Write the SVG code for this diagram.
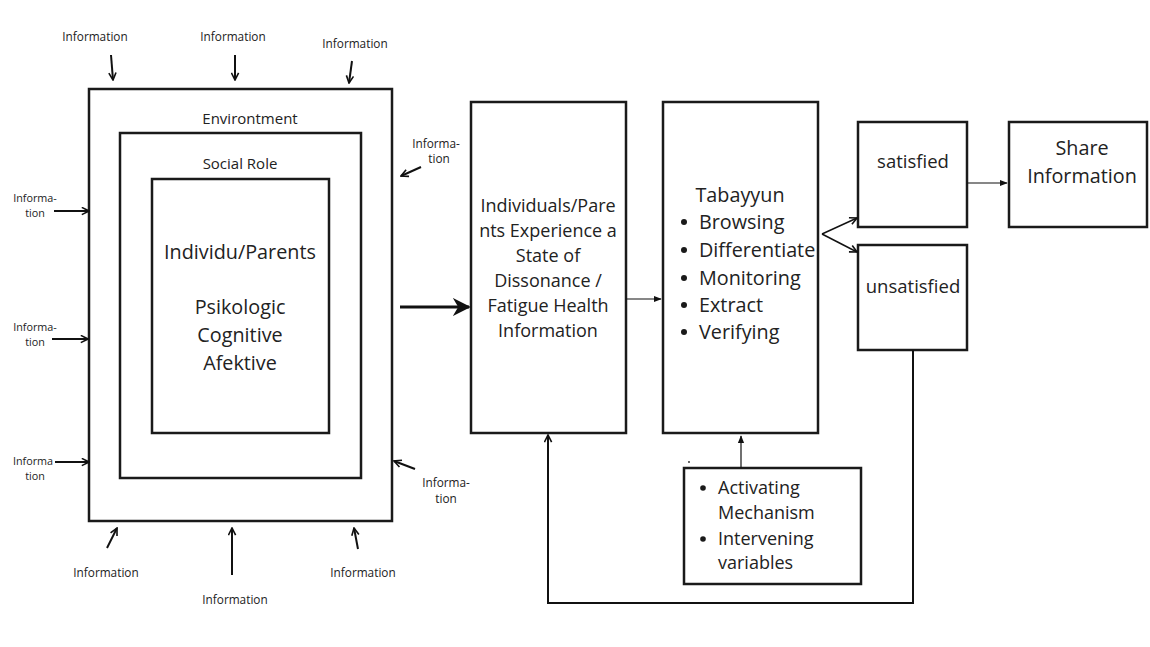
<svg xmlns="http://www.w3.org/2000/svg" width="1150" height="647" viewBox="0 0 1150 647">
  <defs>
    <marker id="open" viewBox="0 0 10 10" refX="9" refY="5" markerWidth="9" markerHeight="9" markerUnits="userSpaceOnUse" orient="auto">
      <path d="M1,1 L9,5 L1,9" fill="none" stroke="#111" stroke-width="1.8"/>
    </marker>
    <marker id="tri" viewBox="0 0 10 10" refX="9" refY="5" markerWidth="8" markerHeight="8" markerUnits="userSpaceOnUse" orient="auto">
      <path d="M0,1 L10,5 L0,9 Z" fill="#111"/>
    </marker>
    <marker id="big" viewBox="0 0 10 10" refX="9" refY="5" markerWidth="18" markerHeight="18" markerUnits="userSpaceOnUse" orient="auto">
      <path d="M0,0 L10,5 L0,10 L3,5 Z" fill="#111"/>
    </marker>
  </defs>
  <style>
    .box { fill: #fff; stroke: #1a1a1a; stroke-width: 2.5; }
    .t { font-family: "Open Sans", "Liberation Sans", sans-serif; fill: #222; text-anchor: middle; }
    .s { font-size: 11.8px; }
    .ss { font-size: 10.8px; }
    .m { font-size: 15px; }
    .l { font-size: 18px; }
    .xl { font-size: 19.8px; }
    .tl { text-anchor: start; }
    .dot { fill: #1a1a1a; }
    .arr { stroke: #111; stroke-width: 2; fill: none; marker-end: url(#open); }
    .thin { stroke: #111; stroke-width: 1.2; fill: none; marker-end: url(#tri); }
  </style>
  <rect width="1150" height="647" fill="#fff"/>

  <!-- nested context: environment, social role, individual -->
  <g id="environment">
    <rect class="box" x="89" y="89" width="303" height="432"/>
    <text class="t m" x="250" y="124">Environtment</text>
  </g>
  <g id="social-role">
    <rect class="box" x="120" y="133" width="241" height="345"/>
    <text class="t m" x="240" y="169">Social Role</text>
  </g>
  <g id="individual">
    <rect class="box" x="152" y="179" width="177" height="254"/>
    <text class="t xl" x="240" y="259">Individu/Parents</text>
    <text class="t xl" x="240" y="314">Psikologic</text>
    <text class="t xl" x="240" y="342">Cognitive</text>
    <text class="t xl" x="240" y="370">Afektive</text>
  </g>

  <!-- incoming information labels -->
  <g id="information-labels">
    <text class="t s" x="95" y="41">Information</text>
    <text class="t s" x="233" y="41">Information</text>
    <text class="t s" x="355" y="48">Information</text>
    <text class="t s" x="436" y="148">Informa-</text>
    <text class="t s" x="439" y="163">tion</text>
    <text class="t ss" x="35" y="202">Informa-</text>
    <text class="t ss" x="35" y="217">tion</text>
    <text class="t ss" x="35" y="331">Informa-</text>
    <text class="t ss" x="35" y="346">tion</text>
    <text class="t ss" x="33" y="465">Informa</text>
    <text class="t ss" x="35" y="480">tion</text>
    <text class="t s" x="446" y="487">Informa-</text>
    <text class="t s" x="446" y="503">tion</text>
    <text class="t s" x="106" y="577">Information</text>
    <text class="t s" x="235" y="604">Information</text>
    <text class="t s" x="363" y="577">Information</text>
  </g>

  <g id="process">
    <rect class="box" x="471" y="102" width="155" height="331"/>
    <text class="t l" x="548" y="212">Individuals/Pare</text>
    <text class="t l" x="548" y="237">nts Experience a</text>
    <text class="t l" x="548" y="262">State of</text>
    <text class="t l" x="548" y="287">Dissonance /</text>
    <text class="t l" x="548" y="312">Fatigue Health</text>
    <text class="t l" x="548" y="337">Information</text>
  </g>

  <g id="tabayyun">
    <rect class="box" x="663" y="102" width="155" height="331"/>
    <text class="t xl" x="740" y="202">Tabayyun</text>
    <circle class="dot" cx="684" cy="222" r="3"/>
    <circle class="dot" cx="684" cy="250" r="3"/>
    <circle class="dot" cx="684" cy="278" r="3"/>
    <circle class="dot" cx="684" cy="305" r="3"/>
    <circle class="dot" cx="684" cy="332" r="3"/>
    <g class="t xl tl">
      <text x="699" y="229">Browsing</text>
      <text x="699" y="257">Differentiate</text>
      <text x="699" y="285">Monitoring</text>
      <text x="699" y="312">Extract</text>
      <text x="699" y="339">Verifying</text>
    </g>
  </g>

  <g id="satisfied">
    <rect class="box" x="858" y="122" width="109" height="105"/>
    <text class="t l" x="913" y="168" style="font-size:18.5px">satisfied</text>
  </g>
  <g id="unsatisfied">
    <rect class="box" x="858" y="245" width="109" height="105"/>
    <text class="t l" x="913" y="293" style="font-size:18.5px">unsatisfied</text>
  </g>
  <g id="share">
    <rect class="box" x="1009" y="122" width="138" height="105"/>
    <text class="t xl" x="1082" y="155">Share</text>
    <text class="t xl" x="1082" y="183">Information</text>
  </g>

  <g id="mechanism">
    <rect class="box" x="684" y="468" width="177" height="116"/>
    <circle class="dot" cx="703" cy="488" r="2.8"/>
    <circle class="dot" cx="703" cy="539" r="2.8"/>
    <g class="t l tl">
      <text x="718" y="494">Activating</text>
      <text x="718" y="519">Mechanism</text>
      <text x="718" y="545">Intervening</text>
      <text x="718" y="569">variables</text>
    </g>
    <circle cx="689" cy="462" r="0.9" fill="#222"/>
  </g>

  <g id="connectors">
    <!-- information arrows into the environment -->
    <line class="arr" x1="111" y1="55" x2="113" y2="80"/>
    <line class="arr" x1="235" y1="55" x2="235" y2="80"/>
    <line class="arr" x1="352" y1="61" x2="349" y2="83"/>
    <line class="arr" x1="421" y1="167" x2="401" y2="176"/>
    <line class="arr" x1="54" y1="211" x2="89" y2="211"/>
    <line class="arr" x1="52" y1="339" x2="88" y2="339"/>
    <line class="arr" x1="55" y1="462" x2="89" y2="462"/>
    <line class="arr" x1="415" y1="469" x2="394" y2="461"/>
    <line class="arr" x1="107" y1="548" x2="117" y2="528"/>
    <line class="arr" x1="232" y1="575" x2="232" y2="528"/>
    <line class="arr" x1="358" y1="549" x2="354" y2="528"/>
    <!-- main flow -->
    <line x1="400" y1="307" x2="469" y2="307" stroke="#111" stroke-width="3" marker-end="url(#big)"/>
    <line class="thin" x1="626" y1="299" x2="661" y2="299"/>
    <line class="arr" style="stroke-width:1.5" x1="822" y1="234" x2="857" y2="218"/>
    <line class="arr" style="stroke-width:1.5" x1="822" y1="234" x2="857" y2="252"/>
    <line class="thin" x1="967" y1="183" x2="1007" y2="183"/>
    <line class="thin" x1="741" y1="468" x2="741" y2="436"/>
    <!-- feedback loop from unsatisfied back to the dissonance state -->
    <polyline class="arr" points="913,350 913,603 548,603 548,435"/>
  </g>
</svg>
